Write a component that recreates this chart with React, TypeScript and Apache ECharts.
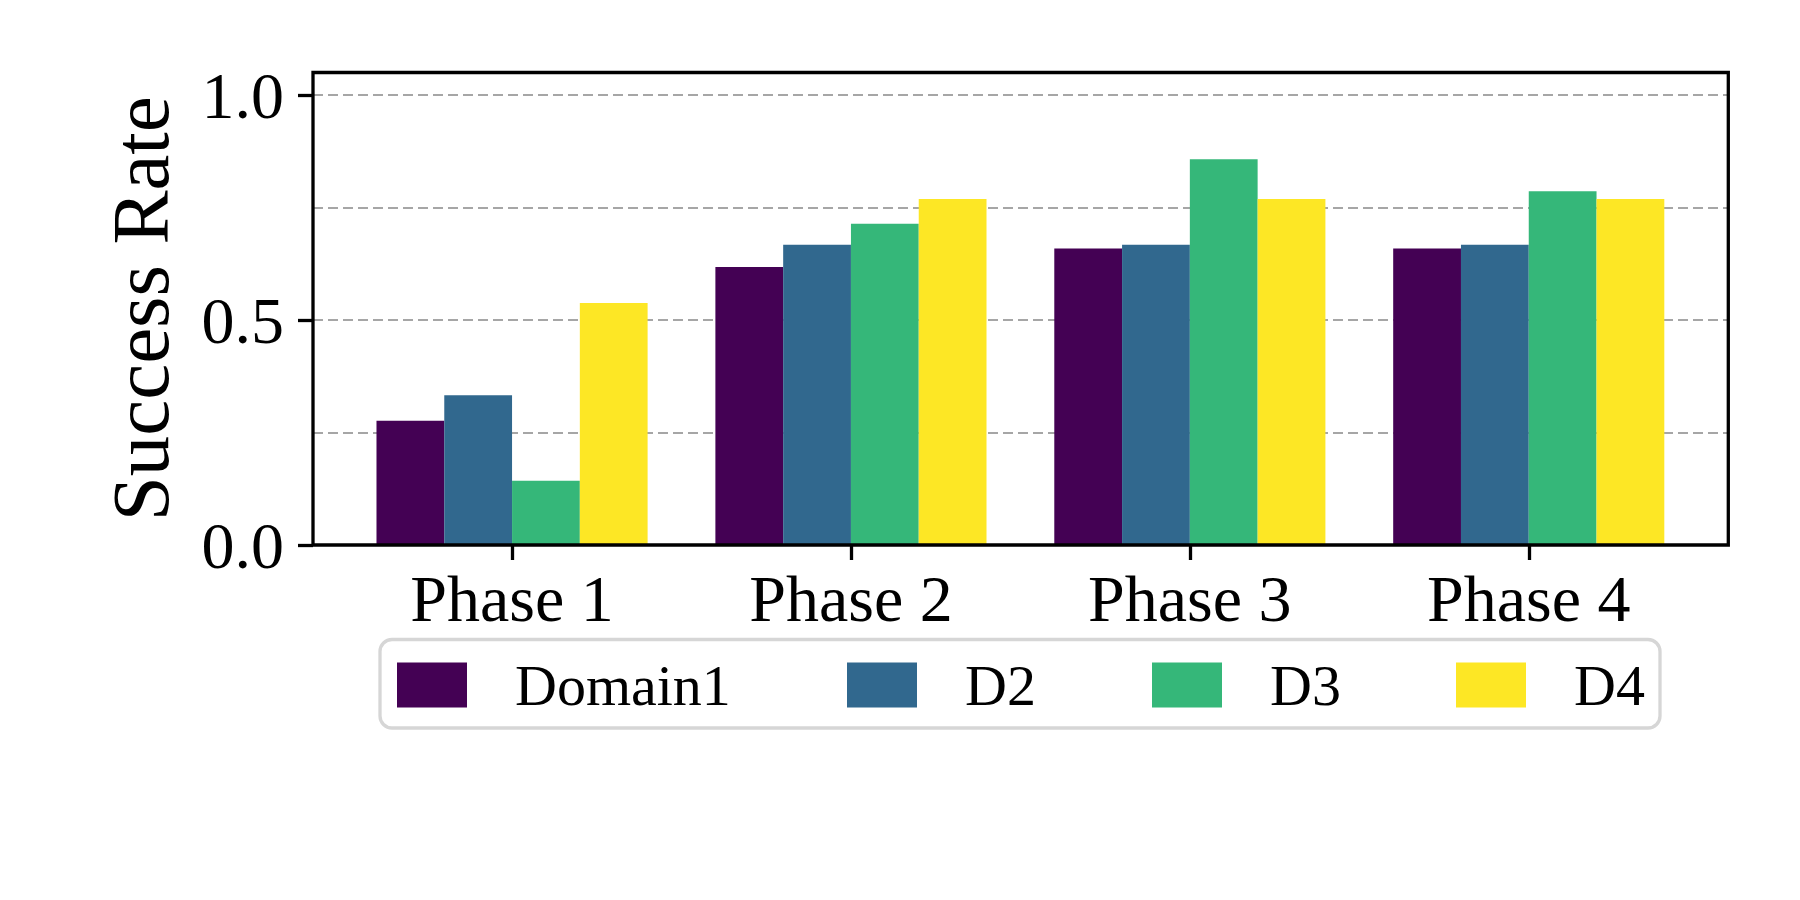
import React, { useEffect, useRef } from "react";
import * as echarts from "echarts";

const categories = ["Phase 1", "Phase 2", "Phase 3", "Phase 4"];
const seriesNames = ["Domain1", "D2", "D3", "D4"];
const domain1 = [0.276, 0.618, 0.659, 0.659];
const d2 = [0.333, 0.667, 0.667, 0.667];
const d3 = [0.143, 0.714, 0.857, 0.786];
const d4 = [0.538, 0.769, 0.769, 0.769];
const seriesValues = [domain1, d2, d3, d4];
const colors = ["#440154", "#31688e", "#35b779", "#fde725"];
const yLabelValues = [0, 0.5, 1.0];

const FONT = "Liberation Serif";

export default function App() {
  const ref = useRef<HTMLDivElement>(null);
  useEffect(() => {
    document.body.style.margin = "0";
    if (!ref.current) return;
    const chart = echarts.init(ref.current, null, { renderer: "svg" });
    const legendLefts = [397, 847, 1152, 1456];
    const option: any = {
      animation: false,
      backgroundColor: "#ffffff",
      grid: [
        { left: 313, top: 72.5, right: 71.7, bottom: 355, show: true, borderColor: "#000", borderWidth: 3.3, backgroundColor: "transparent", z: 3 },
        { left: 342.6, top: 72.5, right: 101.8, bottom: 355 },
      ],
      xAxis: [
        { type: "value", gridIndex: 0, min: 0, max: 1, show: false },
        {
          type: "category",
          gridIndex: 1,
          data: categories,
          axisLine: { show: false },
          axisTick: { show: true, alignWithLabel: true, length: 15, lineStyle: { color: "#000", width: 3.3 } },
          axisLabel: { margin: 20, fontSize: 66, fontFamily: FONT, color: "#000" },
          splitLine: { show: false },
        },
      ],
      yAxis: [
        {
          type: "value",
          gridIndex: 0,
          min: 0,
          max: 1.05,
          interval: 0.25,
          name: "Success Rate",
          nameLocation: "middle",
          nameGap: 132,
          nameTextStyle: { fontSize: 81, fontFamily: FONT, color: "#000" },
          axisLine: { show: false },
          axisTick: { show: true, length: 15, customValues: yLabelValues, lineStyle: { color: "#000", width: 3.3 } },
          axisLabel: {
            margin: 29,
            fontSize: 66,
            fontFamily: FONT,
            color: "#000",
            customValues: yLabelValues,
            formatter: (v: number) => v.toFixed(1),
          },
          splitLine: { show: false },
        },
        { type: "value", gridIndex: 1, min: 0, max: 1.05, show: false, splitLine: { show: false } },
        {
          type: "value",
          gridIndex: 0,
          min: 0,
          max: 1.05,
          interval: 0.25,
          position: "left",
          axisLine: { show: false },
          axisTick: { show: false },
          axisLabel: { show: false },
          splitLine: { show: true, lineStyle: { color: "#a6a6a6", width: 2, type: [10, 5] } },
        },
      ],
      legend: seriesNames.map((n, i) => ({
        data: [n],
        left: legendLefts[i],
        top: 656,
        padding: 0,
        itemWidth: 70,
        itemHeight: 45,
        icon: "rect",
        selectedMode: false,
        textStyle: { fontSize: 58, fontFamily: FONT, color: "#000", lineHeight: 45, padding: [0, 0, 0, 43] },
      })),
      graphic: [
        {
          type: "rect",
          z: -1,
          shape: { x: 380, y: 639.5, width: 1280, height: 88.5, r: 12 },
          style: { fill: "#ffffff", stroke: "#d6d6d6", lineWidth: 3.3 },
        },
      ],
      series: seriesNames.map((n, i) => ({
        name: n,
        type: "bar",
        xAxisIndex: 1,
        yAxisIndex: 1,
        data: seriesValues[i],
        barGap: "0%",
        barCategoryGap: "20%",
        itemStyle: { color: colors[i] },
      })),
    };
    chart.setOption(option);
    return () => chart.dispose();
  }, []);
  return <div ref={ref} style={{ width: 1800, height: 900 }} />;
}
